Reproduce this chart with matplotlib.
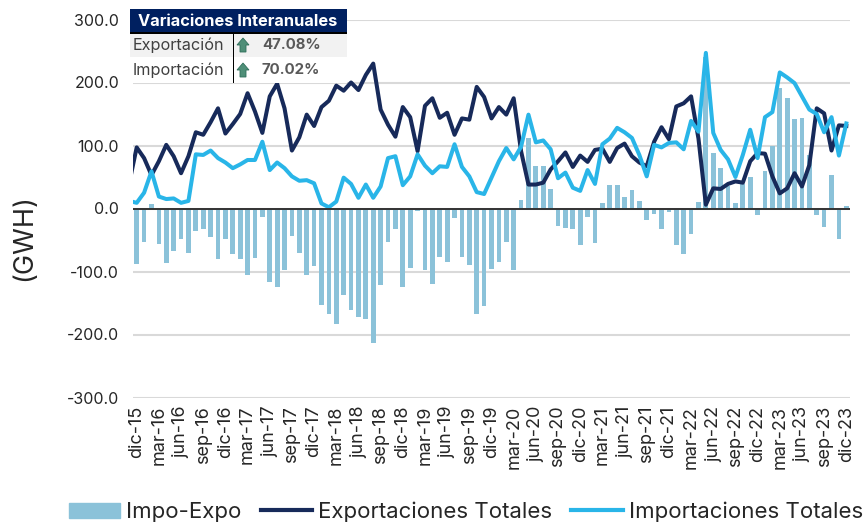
import matplotlib
matplotlib.use('Agg')
import matplotlib.pyplot as plt
import numpy as np
from matplotlib.patches import Polygon, Rectangle
from matplotlib.lines import Line2D
from matplotlib.patches import Patch

plt.rcParams['font.family'] = ['Inter', 'DejaVu Sans']

#############################################################################
# Data

# both line series start one month before the first label (nov-15), the axis clips it
expo = [41, 97, 80, 53, 75, 101, 83, 56, 83, 121, 117, 137, 159, 119, 134, 150, 183, 154, 120, 178, 198,
        159, 92, 113, 149, 131, 161, 171, 195, 187, 200, 188, 212, 230, 157, 133, 114, 161, 145, 91, 163,
        175, 144, 152, 117, 143, 141, 193, 177, 143, 161, 149, 175, 91, 38, 38, 41, 62, 75, 89, 66, 84,
        74, 93, 95, 74, 96, 103, 83, 73, 67, 106, 129, 110, 162, 167, 178, 111, 6, 32, 31, 39, 43, 41,
        75, 88, 87, 51, 24, 32, 56, 35, 69, 159, 151, 92, 132, 131]

impo = [12, 9, 25, 59, 19, 15, 16, 9, 12, 86, 85, 92, 80, 73, 64, 70, 77, 77, 106, 61, 73, 64, 51, 44, 45,
        40, 8, 2, 11, 49, 39, 17, 38, 17, 35, 80, 83, 37, 51, 86, 68, 56, 67, 66, 102, 66, 51, 26, 23, 49,
        75, 96, 78, 98, 149, 105, 108, 94, 48, 57, 33, 28, 61, 39, 102, 111, 128, 121, 112, 85, 51, 101,
        97, 104, 105, 94, 139, 122, 247, 120, 93, 78, 50, 85, 125, 80, 145, 153, 216, 208, 199, 178, 157,
        150, 121, 145, 84, 135]

impo_expo = [-88, -53, 7, -57, -87, -67, -48, -71, -35, -32, -45, -80, -48, -72, -80, -106, -79, -14,
             -116, -125, -97, -43, -70, -106, -92, -153, -168, -184, -138, -161, -172, -175, -214, -121,
             -53, -32, -125, -95, -4, -97, -120, -77, -85, -15, -77, -90, -167, -155, -96, -85, -53, -97,
             14, 112, 67, 68, 31, -27, -31, -33, -58, -13, -55, 9, 38, 38, 18, 30, 12, -19, -8, -33, -6,
             -58, -73, -40, 11, 240, 88, 65, 35, 8, 39, 50, -10, 60, 100, 192, 175, 142, 143, 85, -10,
             -30, 53, -49, 4]

labels = ['dic-15', 'mar-16', 'jun-16', 'sep-16', 'dic-16', 'mar-17', 'jun-17', 'sep-17', 'dic-17',
          'mar-18', 'jun-18', 'sep-18', 'dic-18', 'mar-19', 'jun-19', 'sep-19', 'dic-19', 'mar-20',
          'jun-20', 'sep-20', 'dic-20', 'mar-21', 'jun-21', 'sep-21', 'dic-21', 'mar-22', 'jun-22',
          'sep-22', 'dic-22', 'mar-23', 'jun-23', 'sep-23', 'dic-23']

yticks = [-300, -200, -100, 0, 100, 200, 300]

table_title = 'Variaciones Interanuales'
table_rows = ['Exportación', 'Importación']
table_values = ['47.08%', '70.02%']

#############################################################################
# Plot

W, H = 867, 523
navy = '#172a5a'
sky = '#29b5e8'
bar_col = '#8bc2d9'

fig = plt.figure(figsize=(W / 100, H / 100), dpi=100)
ax = fig.add_axes([133 / W, 1 - 397.5 / H, 717 / W, 378 / H])

x_bar = np.arange(len(impo_expo))
x_line = np.arange(len(expo)) - 1

ax.bar(x_bar, impo_expo, width=0.64, color=bar_col, zorder=2)
ax.plot(x_line, expo, color=navy, lw=2.9, zorder=3, solid_joinstyle='round')
ax.plot(x_line, impo, color=sky, lw=2.9, zorder=4, solid_joinstyle='round')

ax.set_xlim(-0.5, 96.5)
ax.set_ylim(-300, 300)
ax.set_yticks(yticks)
ax.set_yticklabels(['%.1f' % v for v in yticks], fontsize=11.5, color='#262626')
ax.set_xticks(np.arange(0, 97, 3))
ax.set_xticklabels(labels, rotation=90, fontsize=13, color='#262626')
ax.tick_params(length=0)
ax.tick_params(axis='y', pad=10)
ax.tick_params(axis='x', pad=6)
ax.grid(axis='y', color='#d9d9d9', lw=1.5, zorder=0)
ax.set_axisbelow(True)
for s in ax.spines.values():
    s.set_visible(False)
ax.axhline(0, color='#333333', lw=1.4, zorder=5)

fig.text(24 / W, 1 - 238 / H, '(GWH)', rotation=90, fontsize=19.5, color='#262626', va='center', ha='center')

#############################################################################
# little table on top left (pixel coords of the figure)


def px(x, y):
    return x / W, 1 - y / H


def box(x0, y0, x1, y1, col):
    fig.add_artist(Rectangle(px(x0, y1), (x1 - x0) / W, (y1 - y0) / H, transform=fig.transFigure,
                             facecolor=col, edgecolor='none', zorder=10))


box(130, 9, 347, 33, '#002060')
box(130, 33, 347, 57, '#f2f2f2')
box(130, 57, 347, 83, 'white')
box(130, 32, 347, 34, 'black')
box(232.5, 33, 233.8, 83, 'black')

fig.text(*px(238, 21), table_title, color='white', fontsize=11.8, fontweight='bold', ha='center', va='center', zorder=11)
for yy, name, val in zip([45, 70], table_rows, table_values):
    fig.text(*px(133, yy), name, color='#404040', fontsize=11.7, va='center', zorder=11)
    fig.text(*px(262, yy), val, color='#595959', fontsize=10.8, fontweight='bold', va='center', zorder=11)
    arrow = [(243, yy - 7), (249, yy), (246, yy), (246, yy + 7), (240, yy + 7), (240, yy), (237, yy)]
    fig.add_artist(Polygon([px(*p) for p in arrow], closed=True, transform=fig.transFigure,
                           facecolor='#4f8f78', edgecolor='#2f6f5b', lw=0.6, zorder=11))

#############################################################################
# legend

handles = [Patch(color=bar_col), Line2D([0], [0], color=navy, lw=3), Line2D([0], [0], color=sky, lw=3)]
fig.legend(handles, ['Impo-Expo', 'Exportaciones Totales', 'Importaciones Totales'], loc='center',
           bbox_to_anchor=(466 / W, 1 - 512 / H), ncol=3, frameon=False, fontsize=16, handlelength=2.3,
           handletextpad=0.3, columnspacing=0.85, labelcolor='#262626')

plt.savefig('out.png', dpi=100)
